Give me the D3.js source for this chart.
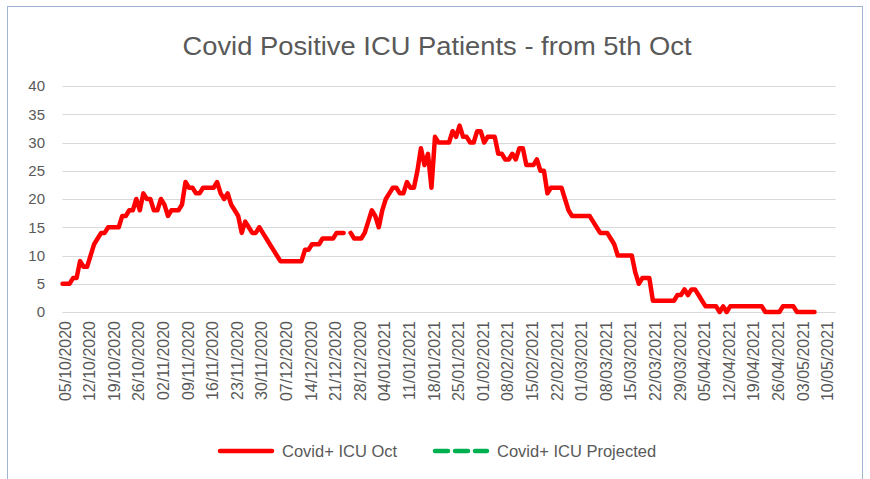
<!DOCTYPE html>
<html>
<head>
<meta charset="utf-8">
<script src="https://cdn.jsdelivr.net/npm/d3@7"></script>
<style>
  html, body { margin: 0; padding: 0; background: #fff; }
  svg text { font-family: "Liberation Sans", Arial, sans-serif; fill: #595959; }
</style>
</head>
<body>
<svg id="chart" width="870" height="479"></svg>
<script>
/* Covid+ ICU chart */

const startDate = "05/10/2020";

// daily values from 05/10/2020, null = missing day
const icuOct = [
	5, 5, 5, 6, 6, 9, 8, 8, 10, 12,
	13, 14, 14, 15, 15, 15, 15, 17, 17, 18,
	18, 20, 18, 21, 20, 20, 18, 18, 20, 19,
	17, 18, 18, 18, 19, 23, 22, 22, 21, 21,
	22, 22, 22, 22, 23, 21, 20, 21, 19, 18,
	17, 14, 16, 15, 14, 14, 15, 14, 13, 12,
	11, 10, 9, 9, 9, 9, 9, 9, 9, 11,
	11, 12, 12, 12, 13, 13, 13, 13, 14, 14,
	14, null, 14, 13, 13, 13, 14, 16, 18, 17,
	15, 18, 20, 21, 22, 22, 21, 21, 23, 22,
	22, 25, 29, 26, 28, 22, 31, 30, 30, 30,
	30, 32, 31, 33, 31, 31, 30, 30, 32, 32,
	30, 31, 31, 31, 28, 28, 27, 27, 28, 27,
	29, 29, 26, 26, 26, 27, 25, 25, 21, 22,
	22, 22, 22, 20, 18, 17, 17, 17, 17, 17,
	17, 16, 15, 14, 14, 14, 13, 12, 10, 10,
	10, 10, 10, 7, 5, 6, 6, 6, 2, 2,
	2, 2, 2, 2, 2, 3, 3, 4, 3, 4,
	4, 3, 2, 1, 1, 1, 1, 0, 1, 0,
	1, 1, 1, 1, 1, 1, 1, 1, 1, 1,
	0, 0, 0, 0, 0, 1, 1, 1, 1, 0,
	0, 0, 0, 0, 0
];

// nothing plotted for the projection
const icuProjected = [];

const yTicks = [0, 5, 10, 15, 20, 25, 30, 35, 40];

const tickLabels = [
	"05/10/2020", "12/10/2020", "19/10/2020", "26/10/2020", "02/11/2020", "09/11/2020",
	"16/11/2020", "23/11/2020", "30/11/2020", "07/12/2020", "14/12/2020", "21/12/2020",
	"28/12/2020", "04/01/2021", "11/01/2021", "18/01/2021", "25/01/2021", "01/02/2021",
	"08/02/2021", "15/02/2021", "22/02/2021", "01/03/2021", "08/03/2021", "15/03/2021",
	"22/03/2021", "29/03/2021", "05/04/2021", "12/04/2021", "19/04/2021", "26/04/2021",
	"03/05/2021", "10/05/2021"
];

const legendItems = [
	{name: "Covid+ ICU Oct", color: "#FF0000", dash: null, x: 218},
	{name: "Covid+ ICU Projected", color: "#00B050", dash: "13,7", x: 433}
];

const parse = d3.utcParse("%d/%m/%Y");
const day0 = parse(startDate);
const series = icuOct.map((v, i) => ({date: d3.utcDay.offset(day0, i), v: v}));

const svg = d3.select("#chart");

// chart frame
svg.append("rect")
	.attr("x", 7.5).attr("y", 6.5)
	.attr("width", 855).attr("height", 490)
	.attr("fill", "#fff")
	.attr("stroke", "#9FB6D3")
	.attr("stroke-width", 1);

const x = d3.scaleUtc()
	.domain([day0, d3.utcDay.offset(day0, 220)])
	.range([62.5, 835.6]);

const y = d3.scaleLinear()
	.domain([0, 40])
	.range([312, 86]);

// title
svg.append("text")
	.attr("x", 437).attr("y", 55)
	.attr("text-anchor", "middle")
	.attr("font-size", 25)
	.attr("textLength", 509)
	.attr("lengthAdjust", "spacingAndGlyphs")
	.text("Covid Positive ICU Patients - from 5th Oct");

// gridlines
svg.append("g")
	.selectAll("line")
	.data(yTicks)
	.join("line")
		.attr("x1", x.range()[0]).attr("x2", x.range()[1])
		.attr("y1", d => Math.round(y(d)) + 0.5)
		.attr("y2", d => Math.round(y(d)) + 0.5)
		.attr("stroke", "#D9D9D9")
		.attr("stroke-width", 1);

// y labels
svg.append("g")
	.selectAll("text")
	.data(yTicks)
	.join("text")
		.attr("x", 45)
		.attr("y", d => y(d))
		.attr("dy", "0.35em")
		.attr("text-anchor", "end")
		.attr("font-size", 15)
		.text(d => d);

// x labels, rotated
svg.append("g")
	.selectAll("text")
	.data(tickLabels)
	.join("text")
		.attr("transform", d => `translate(${x(parse(d)) + 2.5},321) rotate(-90)`)
		.attr("dy", "0.35em")
		.attr("text-anchor", "end")
		.attr("font-size", 16)
		.text(d => d);

const line = d3.line()
	.defined(d => d.v != null)
	.x(d => x(d.date))
	.y(d => y(d.v));

svg.append("path")
	.datum(series)
	.attr("d", line)
	.attr("fill", "none")
	.attr("stroke", "#FF0000")
	.attr("stroke-width", 4.5)
	.attr("stroke-linejoin", "round")
	.attr("stroke-linecap", "round");

if (icuProjected.length) {
	svg.append("path")
		.datum(icuProjected.map((v, i) => ({date: d3.utcDay.offset(day0, i), v: v})))
		.attr("d", line)
		.attr("fill", "none")
		.attr("stroke", "#00B050")
		.attr("stroke-width", 4.5)
		.attr("stroke-dasharray", "13,7");
}

// legend
const lg = svg.append("g")
	.selectAll("g")
	.data(legendItems)
	.join("g")
		.attr("transform", d => `translate(${d.x},451)`);
lg.append("line")
	.attr("x1", 2).attr("x2", 54)
	.attr("stroke", d => d.color)
	.attr("stroke-width", 4.5)
	.attr("stroke-linecap", "round")
	.attr("stroke-dasharray", d => d.dash);
lg.append("text")
	.attr("x", 64)
	.attr("dy", "0.35em")
	.attr("font-size", 16.5)
	.text(d => d.name);
</script>
</body>
</html>
